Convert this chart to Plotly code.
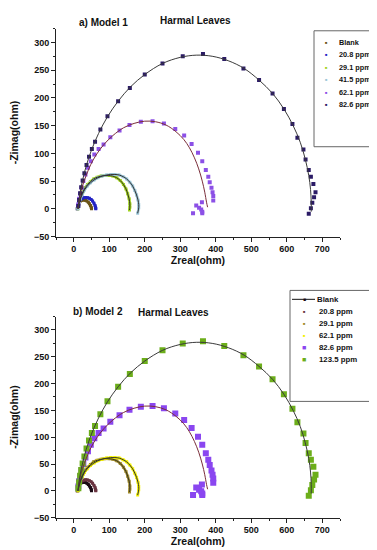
import plotly.graph_objects as go

W, H = 377, 550

# ---------------- data ----------------
# small arc 1 (Blank)
blank_x = [10, 11, 13, 15, 18, 21, 25, 29, 33, 37, 41, 44, 47, 49, 50, 50]
blank_y = [0, 4, 8, 11, 13.5, 15, 16, 16, 15.5, 14, 12, 9, 6, 3, 1, 0]
# small arc 2 (20.8 ppm)
c208_x = [10, 11, 13, 16, 20, 24, 29, 34, 39, 44, 49, 53, 57, 60, 61, 62, 62]
c208_y = [0, 5, 10, 14, 17, 19, 20, 20.5, 20, 19, 17, 14, 10, 6, 3, 1, 0]
# arc to ~158 (29.1 ppm)
c291_x = [12, 14, 17, 21, 26, 32, 39, 47, 56, 66, 77, 88, 99, 110, 121, 131, 140, 147, 152, 156, 158, 158, 157]
c291_y = [0, 8, 16, 24, 31, 38, 44, 49, 54, 57, 59, 60, 60, 59, 56, 51, 44, 36, 27, 18, 9, 3, -2]
# arc to ~183 (41.5 ppm in a, 62.1 ppm in b)
arc183_x = [12, 15, 19, 24, 30, 38, 47, 57, 68, 80, 92, 104, 116, 128, 139, 149, 158, 166, 172, 177, 181, 183, 183, 180]
arc183_y = [0, 9, 18, 26, 34, 41, 47, 52, 56, 59, 61, 62, 62, 61, 58, 54, 48, 41, 33, 25, 16, 8, 2, -8]
# medium arc (62.1 ppm in a, 82.6 ppm in b)
med_x = [13, 15, 18, 22, 27, 33, 40, 48, 58, 70, 84, 103, 129, 157, 189, 222, 254, 286, 311, 332,
         350, 362, 372, 379, 383, 388, 391, 393, 393, 361, 345, 353, 359, 362, 362, 336]
med_y = [8, 18, 27, 38, 50, 62, 74, 86, 98, 108, 116, 129, 141, 151, 157, 158, 154, 144, 132, 117,
         101, 86, 70, 58, 48, 38, 30, 23, 15, 12, 6, 2, -1, -5, -8, -8]
# big arc (82.6 ppm in a, 123.5 ppm in b)
big_x = [13, 15, 18, 21, 25, 30, 36, 43, 51, 60, 75, 95, 125, 158, 200, 250, 307, 364, 424, 478,
         522, 560, 592, 616, 630, 647, 653, 662, 668, 675, 681, 677, 672, 668, 662]
big_y = [5, 16, 28, 39, 51, 64, 79, 94, 108, 121, 143, 167, 194, 218, 242, 262, 275, 279, 270, 253,
         232, 208, 180, 153, 128, 107, 89, 70, 58, 45, 30, 21, 11, 1, -9]

# fitted curves
medfit_x = [12, 14, 18, 25, 35, 48, 65, 85, 110, 140, 170, 200, 230, 260, 288, 310, 326, 340, 352, 362, 369, 374, 377]
medfit_y = [0, 10, 25, 42, 60, 80, 99, 116, 132, 146, 154, 158, 157, 151, 139, 125, 110, 92, 72, 50, 30, 12, 3]
bigfit_x = [12, 14, 18, 25, 35, 50, 70, 95, 125, 160, 200, 250, 300, 345, 390, 435, 480, 522, 560, 592, 618, 638, 652, 662, 667, 669, 669]
bigfit_y = [0, 12, 30, 52, 77, 106, 136, 166, 194, 220, 242, 262, 273, 277, 275, 267, 253, 232, 208, 180, 150, 120, 90, 60, 35, 12, -5]

x_ticks = [0, 100, 200, 300, 400, 500, 600, 700]
y_ticks = [-50, 0, 50, 100, 150, 200, 250, 300]

a_labels = ["Blank", "20.8 ppm", "29.1 ppm", "41.5 ppm", "62.1 ppm", "82.6 ppm"]
b_labels = ["Blank", "20.8 ppm", "29.1 ppm", "62.1 ppm", "82.6 ppm", "123.5 ppm"]
a_colors = ["#6b5418", "#2323c4", "#9fd21e", "#9cc6d8", "#8c50e6", "#2b1b66"]
b_colors = ["#1a0a14", "#6a3440", "#a08a2a", "#f2f000", "#8a46f0", "#6cae1a"]

fig = go.Figure()

def add_panel(xa, ya, labels, colors, big_marker):
    series = [(blank_x, blank_y), (c208_x, c208_y), (c291_x, c291_y),
              (arc183_x, arc183_y), (med_x, med_y), (big_x, big_y)]
    for i, ((xs, ys), lab, col) in enumerate(zip(series, labels, colors)):
        if i < 4:
            fig.add_trace(go.Scatter(x=xs, y=ys, name=lab, mode="lines+markers", xaxis=xa, yaxis=ya,
                                     line=dict(color=col, width=2.6, shape="spline"),
                                     marker=dict(color=col, size=3, symbol="square"), showlegend=False))
        else:
            fig.add_trace(go.Scatter(x=xs, y=ys, name=lab, mode="markers", xaxis=xa, yaxis=ya,
                                     marker=dict(color=col, size=big_marker, symbol="square",
                                                 line=dict(width=0)), showlegend=False))
    # fit lines
    for xs, ys, col in [(c291_x, c291_y, "#333322"), (arc183_x, arc183_y, "#333333"),
                        (medfit_x, medfit_y, "#7a2e3a"), (bigfit_x, bigfit_y, "#3a3a3a")]:
        fig.add_trace(go.Scatter(x=xs, y=ys, mode="lines", xaxis=xa, yaxis=ya, showlegend=False,
                                 line=dict(color=col, width=1, shape="spline"), hoverinfo="skip"))

add_panel("x", "y", a_labels, a_colors, 4)
add_panel("x2", "y2", b_labels, b_colors, 6)

FONT = "Arial, Liberation Sans, sans-serif"

def px(x): return x / W
def py(y): return 1 - y / H

axis_common = dict(range=[-50, 750], showline=True, linecolor="#222", linewidth=1,
                   ticks="outside", ticklen=4, tickwidth=1, tickcolor="#222",
                   tickvals=x_ticks, showgrid=False, zeroline=False,
                   tickfont=dict(family=FONT, size=9, color="#111", weight="bold"),
                   minor=dict(ticks="outside", ticklen=2, dtick=50, tick0=0, tickcolor="#222"))
yaxis_common = dict(range=[-50, 325], showline=True, linecolor="#222", linewidth=1,
                    ticks="outside", ticklen=4, tickwidth=1, tickcolor="#222",
                    tickvals=y_ticks, showgrid=False, zeroline=False,
                    tickfont=dict(family=FONT, size=9, color="#111", weight="bold"),
                    minor=dict(ticks="outside", ticklen=2, dtick=25, tick0=0, tickcolor="#222"))
tfont = dict(family=FONT, size=10.5, color="#111", weight="bold")

xd = [px(48), px(332)]
fig.update_layout(
    width=W, height=H, margin=dict(l=0, r=0, t=0, b=0),
    paper_bgcolor="white", plot_bgcolor="white",
    xaxis=dict(domain=xd, anchor="y", **axis_common,
               title=dict(text="Zreal(ohm)", font=tfont, standoff=0)),
    yaxis=dict(domain=[py(230.7), py(20.7)], anchor="x", **yaxis_common,
               title=dict(text="-Zimag(ohm)", font=tfont, standoff=16)),
    xaxis2=dict(domain=xd, anchor="y2", **axis_common,
                title=dict(text="Zreal(ohm)", font=tfont, standoff=0)),
    yaxis2=dict(domain=[py(514.3), py(311.4)], anchor="x2", **yaxis_common,
                title=dict(text="-Zimag(ohm)", font=tfont, standoff=16)),
    showlegend=False,
)

ann = []
def txt(x, y, s, size=10, xanchor="center", color="#111", bold=True):
    ann.append(dict(x=px(x), y=py(y), xref="paper", yref="paper", text=s, showarrow=False,
                    xanchor=xanchor, yanchor="middle", borderpad=0,
                    font=dict(family=FONT, size=size, color=color, weight="bold" if bold else "normal")))

txt(95, 14.5, "a) Model 1", 10)
txt(187, 12.5, "Harmal Leaves", 10)
txt(90, 306.5, "b) Model 2", 10)
txt(165.5, 307.5, "Harmal Leaves", 10)

shapes = []
# legend a
shapes.append(dict(type="rect", xref="paper", yref="paper", x0=px(306), x1=px(368), y0=py(140), y1=py(23),
                   line=dict(color="#666", width=1), fillcolor="rgba(0,0,0,0)"))
ya = [34.7, 47.3, 60, 72.5, 84.8, 97.3]
for lab, col, yy in zip(a_labels, a_colors, ya):
    txt(318, yy, "■", 4, color=col)
    txt(330, yy, lab, 7.3, xanchor="left")
# legend b
shapes.append(dict(type="rect", xref="paper", yref="paper", x0=px(282), x1=px(371), y0=py(397), y1=py(285),
                   line=dict(color="#666", width=1), fillcolor="rgba(0,0,0,0)"))
yb = [294, 306.3, 318.7, 331, 343, 355]
for i, (lab, col, yy) in enumerate(zip(b_labels, b_colors, yb)):
    if i == 0:
        shapes.append(dict(type="line", xref="paper", yref="paper", x0=px(284), x1=px(307),
                           y0=py(yy), y1=py(yy), line=dict(color="#111", width=1)))
        txt(296, yy, "■", 5, color=col)
        txt(307.5, yy, lab, 7.8, xanchor="left")
    else:
        txt(296, yy, "■", 7 if i >= 4 else 4, color=col)
        txt(309.5, yy, lab, 7.8, xanchor="left")

fig.update_layout(annotations=ann, shapes=shapes)
fig.write_html("out.html")
